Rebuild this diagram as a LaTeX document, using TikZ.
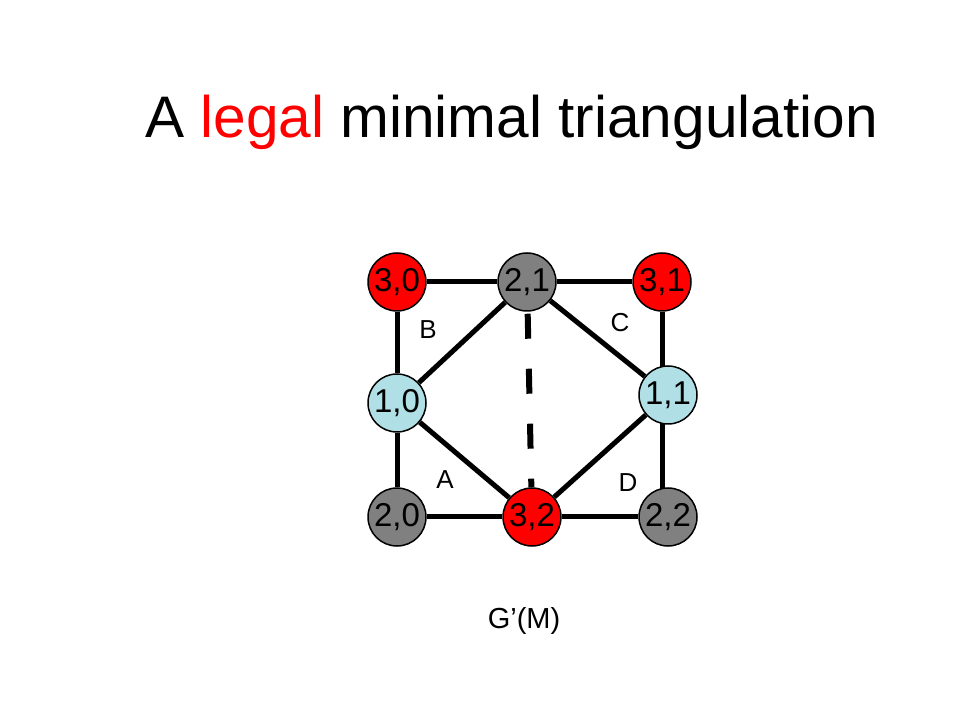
\documentclass[tikz,border=0pt]{standalone}
\usepackage{fontspec}
\setmainfont{Liberation Sans}
\usepackage{xcolor}
\usepackage{tikz}
\usetikzlibrary{positioning, calc, backgrounds}
\definecolor{vred}{RGB}{255,0,0}
\definecolor{vgray}{RGB}{128,128,128}
\definecolor{vblue}{RGB}{176,224,230}
\tikzset{
    vertex/.style={
        circle,
        draw=black,
        line width=1.5pt,
        inner sep=0pt,
        minimum size=58pt,
        font=\fontsize{33}{38}\selectfont,
    },
    redvertex/.style={vertex, fill=vred},
    grayvertex/.style={vertex, fill=vgray},
    bluevertex/.style={vertex, fill=vblue},
    face/.style={font=\fontsize{26}{30}\selectfont},
    link/.style={line width=5pt},
}
\begin{document}
\begin{tikzpicture}[x=1pt,y=1pt]
      \useasboundingbox (0,0) rectangle (960,720);

      \node[anchor=base,font=\fontsize{58.6}{70}\selectfont] (title) at (511.5,582)
        {A \textcolor{vred}{legal} minimal triangulation};

      \node [redvertex] (n30) at (397,438) {3,0};
      \node [grayvertex] (n21) [node distance=130pt,right of=n30] {2,1};
      \node [redvertex] (n31) [node distance=135pt,right of=n21] {3,1};
      \node [bluevertex] (n10) [node distance=121pt,below of=n30] {1,0};
      \node [grayvertex] (n20) [node distance=114pt,below of=n10] {2,0};
      \node [redvertex] (n32) [node distance=135pt,right of=n20] {3,2};
      \node [grayvertex] (n22) [node distance=136pt,right of=n32] {2,2};
      \node [bluevertex] (n11) [node distance=122pt,above of=n22] {1,1};

      \node [face] (B) at ($(n30)+(31,-48)$) {B};
      \node [face] (C) at ($(n31)+(-42,-41)$) {C};
      \node [face] (A) at ($(n20)+(48,37)$) {A};
      \node [face] (D) at ($(n22)+(-40,34)$) {D};

      \node [font=\fontsize{29}{34}\selectfont] (G) at (524,99) {G’(M)};

      \begin{scope}[on background layer]
      \draw[line width=6pt, dash pattern=on 25pt off 30pt, dash phase=-2pt] (n21) -- (n32);

      \draw[link] (n30) -- (n21) -- (n31);
      \draw[link] (n30) -- (n10) -- (n20) -- (n32) -- (n22);
      \draw[link] (n31) -- (n31 |- n22);
      \draw[link] (n10) -- (n21) -- (n11) -- (n32) -- (n10);
      \end{scope}

\end{tikzpicture}
\end{document}
